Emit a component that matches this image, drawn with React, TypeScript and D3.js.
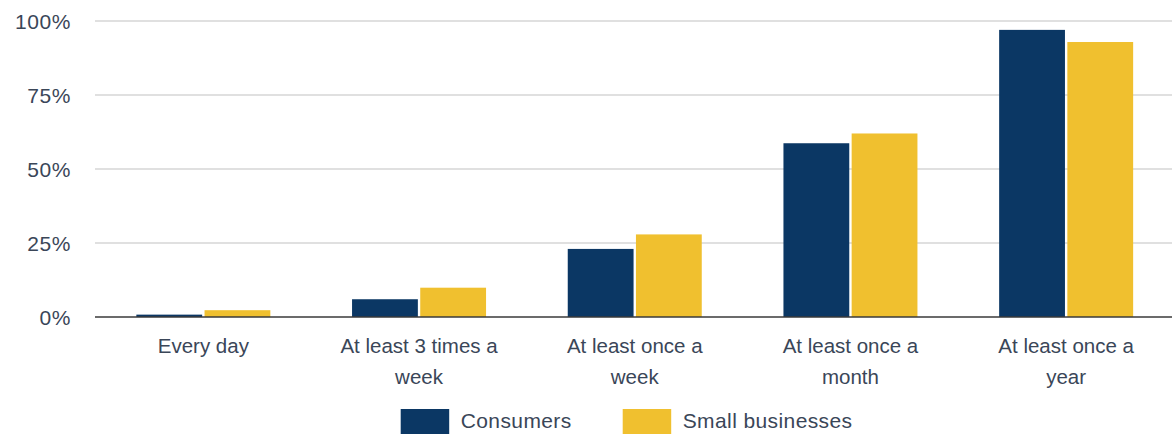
import React from "react";
import * as d3 from "d3";

const categories: string[][] = [
  ["Every day"],
  ["At least 3 times a", "week"],
  ["At least once a", "week"],
  ["At least once a", "month"],
  ["At least once a", "year"],
];
const seriesNames = ["Consumers", "Small businesses"];
const consumers = [0.8, 6.0, 23.0, 58.7, 97.0];
const smallBusinesses = [2.3, 9.9, 27.9, 62.0, 92.9];
const yTicks = [0, 25, 50, 75, 100];
const colors = ["#0b3764", "#f0c02f"];

const W = 1172;
const H = 434;
const FONT = "'Liberation Sans', Arial, sans-serif";
const TEXT = "#3a4658";

export default function App() {
  const x = d3
    .scaleBand<number>()
    .domain(categories.map((_, i) => i))
    .range([95.5, 1174])
    .padding(0);
  const bw = x.bandwidth();
  const inner = d3
    .scaleBand<number>()
    .domain([0, 1])
    .range([bw / 2 - 67, bw / 2 + 67])
    .paddingInner(0.035);
  const y = d3.scaleLinear().domain([0, 100]).range([317, 21]);
  const series = [consumers, smallBusinesses];

  return (
    <svg
      width={W}
      height={H}
      style={{ position: "absolute", left: 0, top: 0, background: "#fff" }}
      fontFamily={FONT}
    >
      {yTicks.map((t) => (
        <g key={t}>
          {t > 0 && (
            <line x1={95} x2={W} y1={y(t)} y2={y(t)} stroke="#d6d6d6" strokeWidth={1.5} />
          )}
          <text
            x={71}
            y={y(t) + 8}
            textAnchor="end"
            fontSize={21}
            letterSpacing={0.6}
            fill={TEXT}
          >
            {t}%
          </text>
        </g>
      ))}
      {series.map((vals, si) =>
        vals.map((v, ci) => (
          <rect
            key={`${si}-${ci}`}
            x={(x(ci) ?? 0) + (inner(si) ?? 0)}
            width={inner.bandwidth()}
            y={y(v)}
            height={y(0) - y(v)}
            fill={colors[si]}
          />
        ))
      )}
      <line x1={95} x2={W} y1={y(0)} y2={y(0)} stroke="#3a3a3a" strokeWidth={1.5} />
      {categories.map((lines, ci) => (
        <text
          key={ci}
          x={(x(ci) ?? 0) + bw / 2}
          y={353}
          textAnchor="middle"
          fontSize={20.5}
          fill={TEXT}
        >
          {lines.map((l, li) => (
            <tspan key={li} x={(x(ci) ?? 0) + bw / 2} dy={li === 0 ? 0 : 30.5}>
              {l}
            </tspan>
          ))}
        </text>
      ))}
      {seriesNames.map((name, si) => {
        const lx = si === 0 ? 400.7 : 622.7;
        return (
          <g key={name}>
            <rect x={lx} y={409} width={48.5} height={25} fill={colors[si]} />
            <text x={lx + 60} y={428} fontSize={21} letterSpacing={0.4} fill={TEXT}>
              {name}
            </text>
          </g>
        );
      })}
    </svg>
  );
}
